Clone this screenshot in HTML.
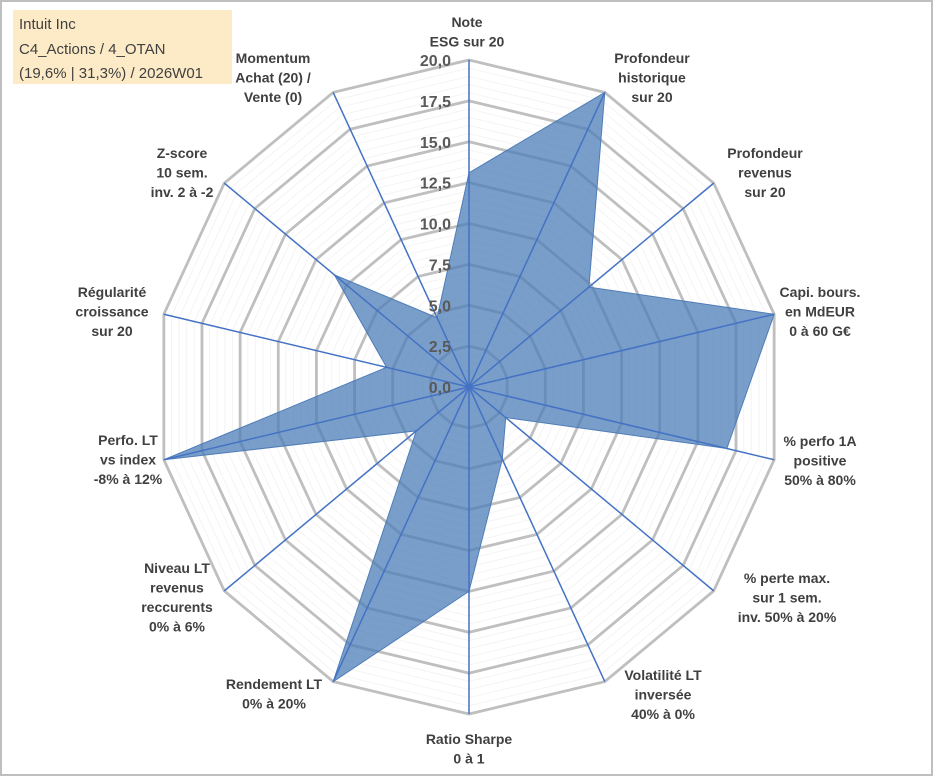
<!DOCTYPE html>
<html><head><meta charset="utf-8"><style>
html,body{margin:0;padding:0;background:#fff;}
body{width:933px;height:776px;overflow:hidden;font-family:"Liberation Sans",sans-serif;}
</style></head><body>
<svg width="933" height="776" viewBox="0 0 933 776" xmlns="http://www.w3.org/2000/svg">
<rect x="1" y="1" width="931" height="774" fill="#fff" stroke="#bfbfbf" stroke-width="2"/>
<g id="grid"></g>
<g id="series"></g>
<g id="spokes"></g>
<g id="ticks"></g>
<g id="labels"></g>
<g>
<rect x="13" y="10" width="219" height="74" fill="#fdebc8"/>
<text x="19" y="29" font-size="15" fill="#404040" font-family="Liberation Sans, sans-serif">Intuit Inc</text>
<text x="19" y="54" font-size="15" fill="#404040">C4_Actions / 4_OTAN</text>
<text x="19" y="78" font-size="15" fill="#404040">(19,6% | 31,3%) / 2026W01</text>
</g>
</svg>
<script>
const categories = [
 ["Note","ESG sur 20"],
 ["Profondeur","historique","sur 20"],
 ["Profondeur","revenus","sur 20"],
 ["Capi. bours.","en MdEUR","0 à 60 G€"],
 ["% perfo 1A","positive","50% à 80%"],
 ["% perte max.","sur 1 sem.","inv. 50% à 20%"],
 ["Volatilité LT","inversée","40% à 0%"],
 ["Ratio Sharpe","0 à 1"],
 ["Rendement LT","0% à 20%"],
 ["Niveau LT","revenus","reccurents","0% à 6%"],
 ["Perfo. LT","vs index","-8% à 12%"],
 ["Régularité","croissance","sur 20"],
 ["Z-score","10 sem.","inv. 2 à -2"],
 ["Momentum","Achat (20) /","Vente (0)"]
];
const values = [13.1, 20, 9.8, 20, 16.9, 3.0, 4.9, 12.5, 20, 4.3, 20, 5.4, 11.0, 4.7];
const tickValues = [0, 2.5, 5, 7.5, 10, 12.5, 15, 17.5, 20];
const tickLabels = ["0,0","2,5","5,0","7,5","10,0","12,5","15,0","17,5","20,0"];
const labelPos = [[467,22],[652,58],[765,153],[820,292],[820,441],[787,578],[663,675],[469,739],[274,684],[177,568],[128,440],[112,292],[182,153],[273,58]];

const NS="http://www.w3.org/2000/svg";
const cx=469, cy=387, RX=313, RY=327, maxV=20, N=categories.length;
function pt(i,v){const a=i*2*Math.PI/N;const f=v/maxV;return [cx+RX*f*Math.sin(a), cy-RY*f*Math.cos(a)];}
function mk(tag,attrs,parent){const e=document.createElementNS(NS,tag);for(const k in attrs)e.setAttribute(k,attrs[k]);parent.appendChild(e);return e;}
const grid=document.getElementById('grid');
for(let k=1;k<40;k++){const v=k*0.5; if(Math.abs(v/2.5-Math.round(v/2.5))<1e-6) continue;
 const pts=[];for(let i=0;i<N;i++)pts.push(pt(i,v).join(','));
 const p=mk('polygon',{points:pts.join(' '),fill:'none',stroke:'#f4f4f4','stroke-width':1},grid);
 
 
}
tickValues.forEach(v=>{ if(v===0) return;
 const pts=[];for(let i=0;i<N;i++)pts.push(pt(i,v).join(','));
 const p=mk('polygon',{points:pts.join(' '),fill:'none',stroke:'#bfbfbf','stroke-width':2.8},grid);
 
 
});
const ser=document.getElementById('series');
const sp=values.map((v,i)=>pt(i,v).join(',')).join(' ');
const poly=mk('polygon',{points:sp,fill:'#4e7db8','fill-opacity':0.75,stroke:'#4e7db8','stroke-width':1},ser);


const spokes=document.getElementById('spokes');
for(let i=0;i<N;i++){const p=pt(i,maxV);
 const l=mk('line',{x1:cx,y1:cy,x2:p[0],y2:p[1],stroke:'#4472c4','stroke-width':1.5},spokes);
 
 
}
const ticks=document.getElementById('ticks');
tickValues.forEach((v,k)=>{
 const t=mk('text',{x:cx-18,y:cy-RY*v/maxV+6,'text-anchor':'end','font-size':16,'font-weight':'bold',fill:'#595959'},ticks);
 t.textContent=tickLabels[k];
 
 
});
const labels=document.getElementById('labels');
categories.forEach((lines,i)=>{
 const [x,y]=labelPos[i];
 const t=mk('text',{x:x,y:y,'text-anchor':'middle','font-size':14,'font-weight':'bold',fill:'#404040'},labels);
 
 
 lines.forEach((s,j)=>{const ts=mk('tspan',{x:x,y:y+5+j*19.5},t);ts.textContent=s;});
});
</script>
</body></html>
